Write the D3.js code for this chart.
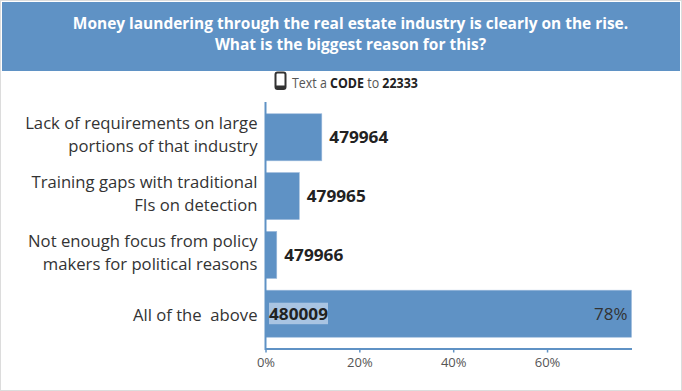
<!DOCTYPE html>
<html>
<head>
<meta charset="utf-8">
<script src="https://cdnjs.cloudflare.com/ajax/libs/d3/7.8.5/d3.min.js"></script>
<style>
  html, body { margin: 0; padding: 0; background: #fff; }
  svg { display: block; }
  text { font-family: "Open Sans", sans-serif; white-space: pre; }
  .x-axis text { font-size: 13px; fill: #555; }
</style>
</head>
<body>
<svg id="chart"></svg>
<script>
const titleLines = ["Money laundering through the real estate industry is clearly on the rise.", "What is the biggest reason for this?"];
const categories = [
  ["Lack of requirements on large", "portions of that industry"],
  ["Training gaps with traditional", "FIs on detection"],
  ["Not enough focus from policy", "makers for political reasons"],
  ["All of the  above"]
];
const codes = ["479964", "479965", "479966", "480009"];
const percents = [12, 7.2, 2.4, 78];
const tickValues = [0, 20, 40, 60];

const width = 682, height = 391;
const blue = "#5f92c5";
const margin = { top: 102, right: 50.5, bottom: 41, left: 265.5 };
const innerW = width - margin.left - margin.right;
const innerH = height - margin.top - margin.bottom;

const svg = d3.select("#chart").attr("width", width).attr("height", height);

// squeeze a text horizontally around its anchor so it takes the wanted width
function squeeze(el, x, y, sx) {
  d3.select(el).attr("x", 0).attr("y", 0)
    .attr("transform", `translate(${x},${y}) scale(${sx},1)`);
}

// outer frame, only left/right/bottom show in the picture
svg.append("rect").attr("x", 0.5).attr("y", 0.5).attr("width", width - 1).attr("height", height - 1)
  .attr("fill", "#fff").attr("stroke", "#dcdcdc");

// header band, both lines live in one text element
svg.append("rect").attr("x", 2).attr("y", 2).attr("width", 678).attr("height", 69).attr("fill", blue);
const title = svg.append("text")
  .attr("class", "title")
  .attr("text-anchor", "middle")
  .attr("fill", "#fff")
  .attr("font-size", 16)
  .attr("font-weight", 700);
title.selectAll("tspan").data(titleLines).join("tspan")
  .attr("x", 0)
  .attr("dy", (d, i) => i === 0 ? 0 : 22)
  .text(d => d);
squeeze(title.node(), 350.5, 28.5, 556 / title.select("tspan").node().getComputedTextLength());
title.selectAll("tspan").attr("x", 0);

// phone icon + instruction line
const phone = svg.append("g");
phone.append("rect").attr("x", 275.5).attr("y", 72.5).attr("width", 10).attr("height", 16.5).attr("rx", 2)
  .attr("fill", "#fff").attr("stroke", "#333").attr("stroke-width", 2);
phone.append("rect").attr("x", 275.5).attr("y", 85.5).attr("width", 10).attr("height", 3).attr("fill", "#333");
const smsText = svg.append("text").attr("font-size", 14).attr("fill", "#555");
smsText.append("tspan").text("Text a ");
smsText.append("tspan").attr("font-weight", 700).attr("fill", "#222").text("CODE");
smsText.append("tspan").text(" to ");
smsText.append("tspan").attr("font-weight", 700).attr("fill", "#222").text("22333");
squeeze(smsText.node(), 292, 88, 126 / smsText.node().getComputedTextLength());

const chart = svg.append("g").attr("transform", `translate(${margin.left},${margin.top})`);

const xScale = d3.scaleLinear().domain([0, 78]).range([0, innerW]);
const yScale = d3.scaleBand().domain(d3.range(categories.length)).range([0, 247]).paddingInner(0.2).paddingOuter(0.2);

chart.selectAll(".bar").data(percents).join("rect")
  .attr("class", "bar")
  .attr("x", 0)
  .attr("y", (d, i) => yScale(i))
  .attr("width", d => xScale(d))
  .attr("height", yScale.bandwidth())
  .attr("fill", blue)
  .attr("stroke", "#9dbbdc")
  .attr("stroke-width", 0.6);

// category labels, right aligned to the axis
categories.forEach((lines, i) => {
  const cy = yScale(i) + yScale.bandwidth() / 2;
  const shift = lines.length > 1 ? 3.5 : 7;
  chart.selectAll(null).data(lines).join("text")
    .attr("text-anchor", "end")
    .attr("font-size", 17)
    .attr("fill", "#333")
    .text(d => d)
    .each(function(d, j) {
      const y = cy + shift + (j - (lines.length - 1) / 2) * 23;
      squeeze(this, -8, y, 0.98);
    });
});

// highlight behind the code that sits inside the long bar
const last = percents.length - 1;
chart.append("rect")
  .attr("x", 3.5)
  .attr("y", yScale(last) + yScale.bandwidth() / 2 - 11)
  .attr("width", 59)
  .attr("height", 21.5)
  .attr("fill", "#a9c4e2");

chart.selectAll(".code").data(codes).join("text")
  .attr("class", "code")
  .attr("font-size", 16.5)
  .attr("font-weight", 700)
  .attr("fill", "#222")
  .text(d => d)
  .each(function(d, i) {
    const x = i === last ? 3.5 : xScale(percents[i]) + 7.5;
    squeeze(this, x, yScale(i) + yScale.bandwidth() / 2 + 6, 59 / this.getComputedTextLength());
  });

chart.append("text")
  .attr("x", xScale(78) - 4)
  .attr("y", yScale(last) + yScale.bandwidth() / 2 + 6)
  .attr("text-anchor", "end")
  .attr("font-size", 17)
  .attr("fill", "#333")
  .text("78%");

// axes
const xAxis = d3.axisBottom(xScale).tickValues(tickValues).tickFormat(d => d + "%").tickSize(4).tickSizeOuter(0);
const xAxisG = chart.append("g").attr("class", "x-axis").attr("transform", `translate(0,${innerH - 1.5})`).call(xAxis);
xAxisG.select(".domain").attr("stroke", blue).attr("stroke-width", 2);
xAxisG.selectAll(".tick line").attr("stroke", blue).attr("stroke-width", 1.5);
xAxisG.selectAll(".tick text").attr("dy", "0.85em");

chart.append("line").attr("x1", 0).attr("x2", 0).attr("y1", 0).attr("y2", innerH)
  .attr("stroke", blue).attr("stroke-width", 2);
</script>
</body>
</html>
